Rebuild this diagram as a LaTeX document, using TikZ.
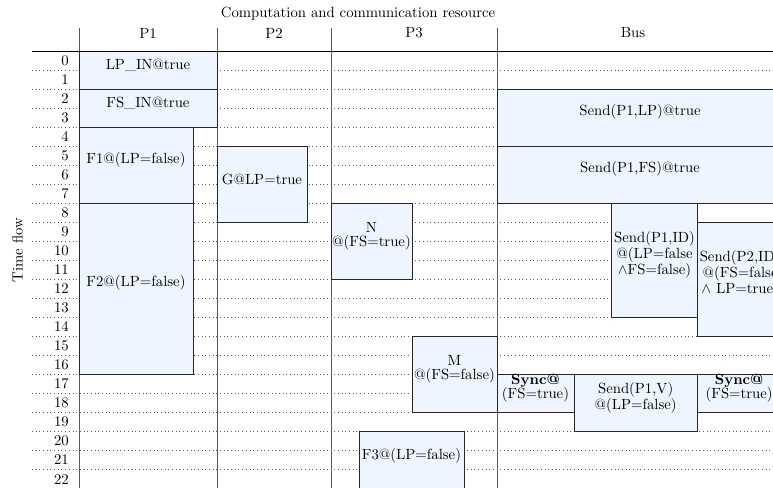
\documentclass[tikz,border=0pt]{standalone}
\usetikzlibrary{fit}
\definecolor{taskfill}{RGB}{238,245,254}
\begin{document}
\begin{tikzpicture}[x=0.678pt, y=-12.9pt,
  every node/.style={font=\fontsize{10pt}{9.5pt}\selectfont},
  task/.style={draw=black!85, line width=0.6pt, fill=taskfill, inner sep=0pt, align=center},
  gridline/.style={dotted, black!65, line width=0.5pt},
  colline/.style={black!65, line width=0.6pt},
  headline/.style={black, line width=0.6pt}]
\useasboundingbox (0,-2.68) rectangle (773,22.96);
% dotted time grid
\foreach \k in {1,...,22} \draw[gridline] (32,\k) -- (790,\k);
% row labels
\foreach \k in {0,...,22} \node[anchor=east] (t\k) at (74,\k+0.5) {\k};
% column lines
\foreach \x in {79,217,331,497} \draw[colline] (\x,-1.21) -- (\x,23.2);
% header
\node (title) at (358,-1.944) {Computation and communication resource};
\node (hp1) at (148,-0.946) {P1};
\node (hp2) at (274,-0.946) {P2};
\node (hp3) at (414,-0.946) {P3};
\node (hbus) at (633,-0.946) {Bus};
\node[rotate=90] (tf) at (17.5,10.46) {Time flow};
% P1
\node[task, fit={(79,0) (217,2)}] (lpin) {LP\_IN@true};
\node[task, fit={(79,2) (217,4)}] (fsin) {FS\_IN@true};
\node[task, fit={(79,4) (193,8)}] (f1) {F1@(LP=false)};
\node[task, fit={(79,8) (193,17)}] (f2) {F2@(LP=false)};
% P2
\node[task, fit={(217,5) (307,9)}] (g) {G@LP=true};
% P3
\node[task, fit={(331,8) (412,12)}] (n) {N\\@(FS=true)};
\node[task, fit={(412,15) (497,19)}] (m) {M\\@(FS=false)};
\node[task, fit={(359,20) (464,23.1)}] (f3) {F3@(LP=false)};
% Bus
\node[task, fit={(497,2) (783,5)}] (sendlp) {Send(P1,LP)@true};
\node[task, fit={(497,5) (783,8)}] (sendfs) {Send(P1,FS)@true};
\node[task, fit={(611.7,8) (697.3,14)}] (sendpid) {Send(P1,ID)\\@(LP=false\\$\wedge$FS=false)};
\node[task, fit={(697.3,9) (783,15)}] (sendqid) {Send(P2,ID)\\@(FS=false\\$\wedge$ LP=true)};
\node[task, fit={(497,17) (574,19)}] (synca) {\textbf{Sync@}\\(FS=true)};
\node[task, fit={(574,17) (697.3,20)}] (sendv) {Send(P1,V)\\@(LP=false)};
\node[task, fit={(697.3,17) (781,19)}] (syncb) {\textbf{Sync@}\\(FS=true)};
% header rule
\draw[headline] (32,0) -- (790,0);
\end{tikzpicture}
\end{document}
